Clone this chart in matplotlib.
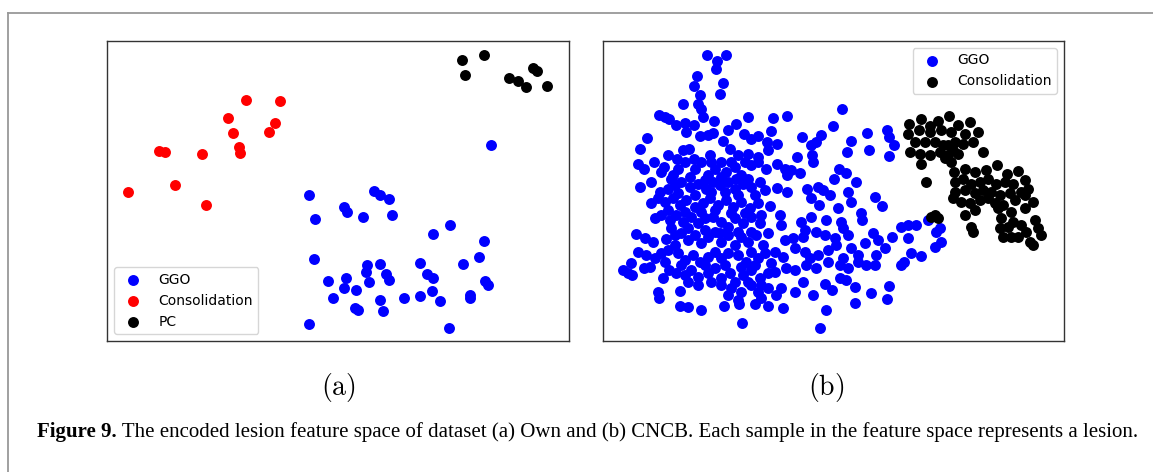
import numpy as np
import matplotlib.pyplot as plt
from matplotlib.lines import Line2D

# (a) Own dataset - encoded feature space, points as (x, y)
own_ggo = [(1173, 330), (627, 481), (822, 468), (840, 480), (868, 492), (731, 516),
           (740, 531), (788, 547), (876, 539), (646, 552), (1049, 570), (999, 598),
           (1153, 617), (642, 673), (959, 684), (1137, 666), (1090, 686), (802, 689),
           (840, 686), (797, 712), (857, 716), (982, 717), (1000, 729), (684, 739),
           (737, 729), (808, 741), (867, 736), (732, 759), (769, 765), (1156, 739),
           (1164, 750), (996, 767), (1110, 779), (1110, 790), (701, 788), (840, 795),
           (912, 790), (960, 784), (1019, 797), (764, 820), (773, 824), (848, 829),
           (628, 868), (1048, 878)]
own_consolidation = [(440, 195), (540, 197), (386, 249), (526, 264), (401, 294),
                     (508, 291), (419, 334), (421, 354), (178, 346), (196, 351),
                     (307, 357), (226, 449), (86, 470), (320, 510)]
own_pc = [(1087, 73), (1151, 60), (1095, 120), (1227, 127), (1253, 138), (1278, 155),
          (1300, 97), (1312, 108), (1342, 153)]

# (b) CNCB dataset
cncb_ggo = [
    (338, 58), (393, 60), (368, 77), (363, 100), (308, 122), (385, 142), (297, 152),
    (316, 178), (375, 175), (266, 207), (310, 207), (320, 222), (325, 245), (742, 221),
    (193, 240), (210, 245), (222, 250), (244, 270), (272, 262), (298, 270), (275, 290),
    (358, 258), (425, 265), (460, 245), (536, 248), (577, 242), (714, 272),
    (157, 308), (137, 340), (317, 303), (340, 300), (356, 292), (399, 285), (449, 297),
    (469, 310), (490, 302), (530, 288), (386, 318), (516, 320), (520, 343), (548, 327),
    (621, 305), (650, 330), (664, 320), (680, 298), (770, 318), (818, 294), (756, 350),
    (822, 345), (878, 285), (884, 305), (897, 328), (882, 362),
    (220, 358), (248, 370), (264, 343), (282, 340), (298, 370), (346, 358), (405, 340),
    (430, 360), (460, 355), (490, 365), (608, 366), (653, 358), (655, 380),
    (130, 385), (147, 400), (177, 380), (209, 395), (200, 410), (230, 430), (250, 400),
    (270, 380), (300, 400), (320, 380), (340, 420), (360, 400), (380, 380), (395, 410),
    (420, 395), (440, 420), (470, 390), (490, 380), (515, 402), (548, 385), (570, 400),
    (590, 405), (617, 412), (577, 420), (733, 400), (755, 412), (785, 440), (718, 432),
    (168, 440), (135, 455), (195, 470), (220, 460), (240, 450), (260, 440), (285, 455),
    (310, 445), (335, 460), (355, 440), (375, 450), (400, 440), (420, 460), (445, 445),
    (470, 455), (495, 440), (510, 465), (548, 458), (578, 470), (638, 462), (670, 455),
    (685, 465), (705, 480), (760, 470), (770, 500), (840, 487), (862, 512),
    (170, 505), (190, 490), (210, 500), (235, 490), (255, 510), (275, 495), (300, 515),
    (325, 505), (345, 490), (370, 510), (395, 495), (415, 515), (440, 500), (465, 520),
    (490, 505), (527, 512), (555, 540), (650, 490), (673, 510), (730, 520), (800, 535),
    (803, 555),
    (180, 548), (200, 540), (225, 555), (245, 540), (265, 560), (290, 545), (310, 565),
    (330, 550), (355, 545), (380, 560), (400, 575), (420, 550), (445, 565), (470, 545),
    (495, 565), (560, 570), (620, 560), (648, 545), (693, 555), (740, 560), (745, 580),
    (630, 585),
    (125, 597), (150, 610), (175, 620), (215, 613), (240, 600), (240, 630), (260, 595),
    (280, 615), (300, 600), (320, 625), (340, 605), (360, 590), (380, 620), (400, 600),
    (420, 630), (440, 605), (460, 620), (485, 600), (505, 630), (570, 615), (595, 610),
    (625, 605), (665, 590), (690, 600), (720, 610), (760, 600), (835, 595), (850, 615),
    (893, 605), (920, 575), (940, 570), (963, 570), (940, 610), (1000, 555),
    (130, 650), (155, 660), (180, 670), (200, 655), (220, 645), (250, 655), (270, 675),
    (295, 660), (315, 680), (340, 665), (360, 650), (380, 670), (400, 655), (430, 660),
    (455, 680), (470, 650), (490, 670), (510, 655), (540, 650), (565, 665), (600, 640),
    (630, 650), (645, 670), (670, 660), (700, 645), (725, 630), (770, 640), (790, 660),
    (810, 625), (845, 660), (870, 640), (950, 655), (980, 663), (1020, 635), (1040, 620),
    (1025, 590), (1035, 580),
    (85, 705), (100, 715), (113, 720), (110, 685), (148, 700), (165, 695), (205, 730),
    (222, 705), (245, 715), (270, 720), (290, 705), (310, 725), (340, 715), (360, 700),
    (380, 730), (405, 715), (420, 740), (445, 720), (470, 705), (495, 730), (520, 715),
    (540, 710), (575, 700), (600, 705), (635, 690), (665, 700), (700, 680), (735, 690),
    (745, 670), (760, 700), (790, 680), (815, 690), (840, 690), (920, 690), (928, 680),
    (190, 770), (193, 790), (257, 768), (310, 750), (380, 750), (410, 760), (440, 770),
    (470, 750), (490, 770), (520, 760), (545, 780), (560, 760), (600, 770), (625, 740),
    (655, 780), (692, 748), (712, 765), (735, 730), (755, 735), (780, 755), (830, 775),
    (883, 754), (878, 793),
    (255, 813), (280, 817), (318, 825), (388, 812), (432, 808), (480, 806), (520, 812),
    (565, 818), (695, 825), (780, 803), (441, 863), (675, 878), (430, 795), (500, 790),
    # dense core, extra overlapping samples
    (235, 420), (285, 425), (330, 435), (380, 425), (425, 430), (460, 430), (250, 475),
    (300, 480), (350, 470), (390, 470), (430, 480), (480, 480), (220, 525), (270, 530),
    (320, 530), (360, 525), (410, 535), (450, 535), (500, 540), (230, 580), (280, 580),
    (330, 585), (375, 595), (430, 590), (470, 590), (520, 595), (210, 680), (260, 690),
    (330, 690), (390, 690), (440, 695), (480, 690), (530, 685), (280, 740), (350, 740),
    (460, 740), (500, 750), (400, 780), (350, 380), (410, 380), (450, 380)]
cncb_consolidation = [
    (944, 266), (978, 250), (1007, 272), (1030, 258), (1063, 241), (1090, 268),
    (1127, 260), (940, 295), (972, 285), (1005, 290), (1040, 285), (1070, 290),
    (1110, 295), (1150, 290), (960, 320), (990, 320), (1020, 320), (1045, 330),
    (1080, 320), (1105, 325), (1135, 320), (945, 350), (975, 355), (1005, 360),
    (1035, 350), (1060, 360), (1090, 355), (1165, 350), (980, 385), (1070, 380),
    (1050, 368), (1060, 330), (1075, 345),
    (1078, 410), (1110, 400), (1140, 410), (1175, 405), (1208, 388), (1236, 415),
    (1270, 407), (1080, 440), (1105, 430), (1130, 445), (1155, 440), (1180, 430),
    (1205, 445), (1230, 440), (1255, 445), (1290, 435), (1300, 460), (995, 440),
    (1080, 470), (1110, 465), (1140, 475), (1165, 465), (1190, 470), (1215, 480),
    (1245, 475), (1280, 470), (1075, 490), (1100, 500), (1125, 505), (1155, 495),
    (1180, 490), (1200, 505), (1225, 510), (1260, 495), (1290, 480), (1315, 500),
    (1110, 540), (1140, 525), (1210, 520), (1250, 530), (1290, 520), (1010, 545),
    (1030, 550), (1020, 540),
    (1220, 550), (1255, 560), (1280, 570), (1320, 555), (1215, 580), (1240, 575),
    (1295, 590), (1330, 580), (1340, 600), (1225, 605), (1250, 605), (1270, 605),
    (1305, 620), (1315, 630), (1130, 575), (1135, 590)]

caption_bold = "Figure 9."
caption_rest = (" The encoded lesion feature space of dataset (a) Own and (b) CNCB. "
                "Each sample in the feature space represents a lesion.")

W, H = 1153, 472
fig = plt.figure(figsize=(W / 100, H / 100), dpi=100)
plt.rcParams["mathtext.fontset"] = "cm"


def scatter_panel(rect, xlim, groups, legend_loc):
    ax = fig.add_axes(rect)
    for pts, color, label in groups:
        arr = np.array(pts)
        ax.scatter(arr[:, 0], arr[:, 1], s=62, c=color, label=label, linewidths=0)
    ax.set_xlim(*xlim)
    ax.set_ylim(918, 17)  # image-like orientation
    ax.set_xticks([])
    ax.set_yticks([])
    for sp in ax.spines.values():
        sp.set_color("#333333")
        sp.set_linewidth(1.0)
    ax.legend(loc=legend_loc, fontsize=10, scatterpoints=1)
    return ax


scatter_panel([107 / W, 1 - 341 / H, 462 / W, 300 / H], (22, 1407),
              [(own_ggo, "blue", "GGO"),
               (own_consolidation, "red", "Consolidation"),
               (own_pc, "black", "PC")], "lower left")
scatter_panel([603 / W, 1 - 341 / H, 461 / W, 300 / H], (25, 1408),
              [(cncb_ggo, "blue", "GGO"),
               (cncb_consolidation, "black", "Consolidation")], "upper right")

# subfigure labels
fig.text(338 / W, 1 - 388 / H, r"$\mathrm{(a)}$", fontsize=20, ha="center", va="center")
fig.text(826 / W, 1 - 388 / H, r"$\mathrm{(b)}$", fontsize=20, ha="center", va="center")

# caption: bold label followed by regular text
t1 = fig.text(37 / W, 1 - 437 / H, caption_bold, fontsize=15, fontweight="bold",
              family="Liberation Serif", va="baseline")
fig.add_artist(plt.Annotation(caption_rest, xy=(1, 0), xycoords=t1, va="bottom",
                              fontsize=15, family="Liberation Serif"))

# page frame lines
fig.add_artist(Line2D([8 / W, 1], [1 - 13 / H, 1 - 13 / H], color="#999999", lw=1.3))
fig.add_artist(Line2D([8 / W, 8 / W], [0, 1 - 13 / H], color="#999999", lw=1.3))

fig.savefig("out.png", dpi=100)
